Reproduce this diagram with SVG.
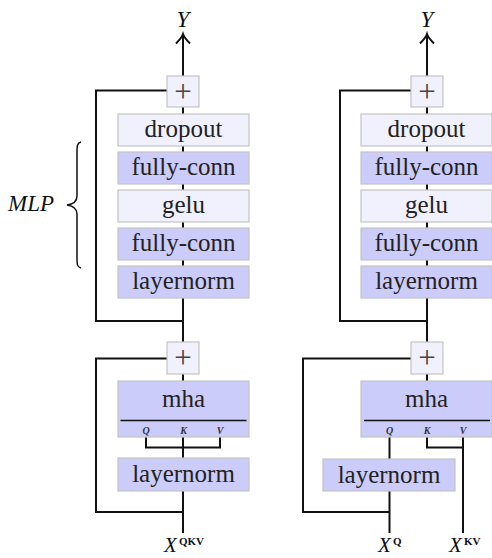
<svg xmlns="http://www.w3.org/2000/svg" width="492" height="558" viewBox="0 0 492 558" font-family="Liberation Serif, DejaVu Serif, serif">
<style>
.lt{fill:#f1f1fd;stroke:#c4c4c4;stroke-width:1.2}
.bl{fill:#ccccfa;stroke:#c4c4c4;stroke-width:1.2}
.t{font-size:25px;fill:#222;text-anchor:middle}
.pl{font-size:31px;fill:#444;text-anchor:middle}
.it{font-style:italic;fill:#111}
.qkv{font-style:italic;font-weight:bold;font-size:10px;fill:#333;text-anchor:middle}
.sup{font-weight:bold;font-size:11px;fill:#111}
.ln{fill:none;stroke:#111;stroke-width:2}
</style>

<g id="connectors">
  <path class="ln" d="M183,76 V34"/>
  <path class="ln" d="M176,43.5 C179.5,40 182,37 183,34 C184,37 186.5,40 190,43.5"/>
  <path class="ln" d="M167,90.5 H96 V321 H183"/>
  <path class="ln" d="M183,107 V114 M183,146 V152 M183,184 V190 M183,222 V228 M183,260 V266"/>
  <path class="ln" d="M183,298 V342"/>
  <path class="ln" d="M167,358.5 H96 V512 H183"/>
  <path class="ln" d="M183,374 V381"/>
  <path class="ln" d="M146,437 V447.5 H220 V437"/>
  <path class="ln" d="M183,437 V458"/>
  <path class="ln" d="M183,491 V533"/>
  <path class="ln" d="M427,76 V34"/>
  <path class="ln" d="M420,43.5 C423.5,40 426,37 427,34 C428,37 430.5,40 434,43.5"/>
  <path class="ln" d="M411,90.5 H340 V321 H427"/>
  <path class="ln" d="M427,107 V114 M427,146 V152 M427,184 V190 M427,222 V228 M427,260 V266"/>
  <path class="ln" d="M427,298 V342"/>
  <path class="ln" d="M411,358.5 H303 V512 H389.5"/>
  <path class="ln" d="M427,374 V381"/>
  <path class="ln" d="M389.5,437 V459"/>
  <path class="ln" d="M389.5,491 V533"/>
  <path class="ln" d="M427,437 V447.5 H463 M463,437 V533"/>
</g>

<g id="L-Y"><text class="it" x="183" y="27" font-size="23" text-anchor="middle">Y</text></g>
<g id="L-plus1"><rect class="lt" x="167" y="76" width="32" height="31"/><text class="pl" x="183" y="101.5">+</text></g>
<g id="L-dropout"><rect class="lt" x="118" y="114" width="131" height="32"/><text class="t" x="183.5" y="137.3">dropout</text></g>
<g id="L-fc1"><rect class="bl" x="118" y="152" width="131" height="32"/><text class="t" x="183.5" y="175.3">fully-conn</text></g>
<g id="L-gelu"><rect class="lt" x="118" y="190" width="131" height="32"/><text class="t" x="183.5" y="213.3">gelu</text></g>
<g id="L-fc2"><rect class="bl" x="118" y="228" width="131" height="32"/><text class="t" x="183.5" y="251.3">fully-conn</text></g>
<g id="L-ln1"><rect class="bl" x="118" y="266" width="131" height="32"/><text class="t" x="183.5" y="289.3">layernorm</text></g>
<g id="L-plus2"><rect class="lt" x="167" y="342" width="32" height="32"/><text class="pl" x="183" y="368">+</text></g>
<g id="L-mha"><rect class="bl" x="118" y="381" width="131" height="56"/><text class="t" x="183.5" y="407">mha</text>
  <line x1="120.5" y1="420.5" x2="246.5" y2="420.5" stroke="#111" stroke-width="1.3"/>
  <text class="qkv" x="146" y="434">Q</text><text class="qkv" x="183.5" y="434">K</text><text class="qkv" x="220" y="434">V</text></g>
<g id="L-ln2"><rect class="bl" x="118" y="458" width="131" height="33"/><text class="t" x="183.5" y="481.8">layernorm</text></g>
<g id="L-X"><text class="it" x="164" y="552" font-size="21">X</text><text class="sup" x="179" y="545">QKV</text></g>
<g id="MLP-brace">
  <path d="M81,142 C77,143 77,146 77,152 V196 C77,201 74,204 67,205 C74,206 77,209 77,214 V258 C77,264 77,267 81,268" fill="none" stroke="#111" stroke-width="1.5"/>
  <text class="it" x="54" y="211" font-size="23" text-anchor="end">MLP</text>
</g>

<g id="R-Y"><text class="it" x="427" y="27" font-size="23" text-anchor="middle">Y</text></g>
<g id="R-plus1"><rect class="lt" x="411" y="76" width="32" height="31"/><text class="pl" x="427" y="101.5">+</text></g>
<g id="R-dropout"><rect class="lt" x="361" y="114" width="131" height="32"/><text class="t" x="426.5" y="137.3">dropout</text></g>
<g id="R-fc1"><rect class="bl" x="361" y="152" width="131" height="32"/><text class="t" x="426.5" y="175.3">fully-conn</text></g>
<g id="R-gelu"><rect class="lt" x="361" y="190" width="131" height="32"/><text class="t" x="426.5" y="213.3">gelu</text></g>
<g id="R-fc2"><rect class="bl" x="361" y="228" width="131" height="32"/><text class="t" x="426.5" y="251.3">fully-conn</text></g>
<g id="R-ln1"><rect class="bl" x="361" y="266" width="131" height="32"/><text class="t" x="426.5" y="289.3">layernorm</text></g>
<g id="R-plus2"><rect class="lt" x="411" y="342" width="32" height="32"/><text class="pl" x="427" y="368">+</text></g>
<g id="R-mha"><rect class="bl" x="361" y="381" width="131" height="56"/><text class="t" x="426.5" y="407">mha</text>
  <line x1="364" y1="420.5" x2="490" y2="420.5" stroke="#111" stroke-width="1.3"/>
  <text class="qkv" x="389.5" y="434">Q</text><text class="qkv" x="427" y="434">K</text><text class="qkv" x="463" y="434">V</text></g>
<g id="R-ln2"><rect class="bl" x="323" y="459" width="132" height="32"/><text class="t" x="389" y="482.5">layernorm</text></g>
<g id="R-XQ"><text class="it" x="378" y="552" font-size="21">X</text><text class="sup" x="393" y="545">Q</text></g>
<g id="R-XKV"><text class="it" x="449" y="552" font-size="21">X</text><text class="sup" x="464" y="545">KV</text></g>
</svg>
